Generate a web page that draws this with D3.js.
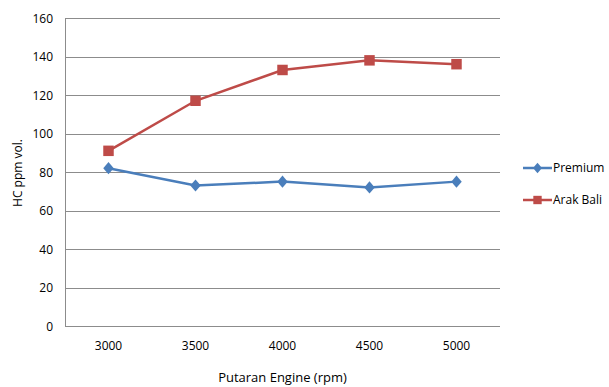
<!DOCTYPE html>
<html>
<head>
<meta charset="utf-8">
<script src="https://cdn.jsdelivr.net/npm/d3@7"></script>
<style>
  body { margin: 0; background: #fff; }
  text { font-family: "Open Sans", "Noto Sans", sans-serif; fill: #000; }
</style>
</head>
<body>
<svg id="drawing_region"></svg>
<script>
const rpm = ["3000", "3500", "4000", "4500", "5000"];
const premium = [82, 73, 75, 72, 75];
const arakBali = [91, 117, 133, 138, 136];
const yTicks = [0, 20, 40, 60, 80, 100, 120, 140, 160];

// wide diamond like the spreadsheet marker
const wideDiamond = {
    draw(context, size) {
        const w = Math.sqrt(size) / 2, h = w * 1.15;
        context.moveTo(0, -h);
        context.lineTo(w, 0);
        context.lineTo(0, h);
        context.lineTo(-w, 0);
        context.closePath();
    }
};

const series = [
    { name: "Premium", values: premium, color: "#4a7ebb", shape: wideDiamond, size: 110, lsize: 80 },
    { name: "Arak Bali", values: arakBali, color: "#be4b48", shape: d3.symbolSquare, size: 110, lsize: 70 }
];

const config = {
    width: 609,
    height: 387,
    margin: { top: 18, right: 109, bottom: 61, left: 65 }
};

const svg = d3.select('#drawing_region')
    .attr('width', config.width)
    .attr('height', config.height);

const inner_width = config.width - config.margin.left - config.margin.right;
const inner_height = config.height - config.margin.top - config.margin.bottom;

const chart = svg.append('g')
    .attr('transform', `translate(${config.margin.left}, ${config.margin.top})`);

const xscale = d3.scaleBand()
    .domain(rpm)
    .range([0, inner_width]);

const yscale = d3.scaleLinear()
    .domain([0, 160])
    .range([inner_height, 0]);

// gridlines
chart.append('g')
    .selectAll('line')
    .data(yTicks)
    .join('line')
    .attr('x1', 0)
    .attr('x2', inner_width)
    .attr('y1', d => Math.round(yscale(d)) + 0.5)
    .attr('y2', d => Math.round(yscale(d)) + 0.5)
    .attr('stroke', '#8c8c8c')
    .attr('stroke-width', 1);

// y axis
const yaxis = d3.axisLeft(yscale).tickValues(yTicks).tickSize(0).tickPadding(12);
const yaxis_group = chart.append('g').call(yaxis);
yaxis_group.select('.domain').attr('stroke', '#8c8c8c').attr('d', `M0.5,0V${inner_height}`);
yaxis_group.selectAll('text').attr('font-size', 12).attr('dy', '0.35em');

// x axis
const xaxis = d3.axisBottom(xscale).tickSize(0).tickPadding(15);
const xaxis_group = chart.append('g')
    .attr('transform', `translate(0, ${inner_height})`)
    .call(xaxis);
xaxis_group.select('.domain').remove();
xaxis_group.selectAll('text').attr('font-size', 12);

// axis titles
svg.append('text')
    .attr('transform', `translate(18, ${config.margin.top + inner_height / 2 + 1}) rotate(-90)`)
    .attr('text-anchor', 'middle')
    .attr('font-size', 12)
    .attr('dy', '0.35em')
    .text('HC ppm vol.');

svg.append('text')
    .attr('x', config.margin.left + inner_width / 2)
    .attr('y', 382)
    .attr('text-anchor', 'middle')
    .attr('font-size', 13)
    .text('Putaran Engine (rpm)');

// lines and markers
const xc = d => xscale(d) + xscale.bandwidth() / 2;
const line = d3.line()
    .x((d, i) => xc(rpm[i]))
    .y(d => yscale(d));

series.forEach(s => {
    chart.append('path')
        .datum(s.values)
        .attr('d', line)
        .attr('fill', 'none')
        .attr('stroke', s.color)
        .attr('stroke-width', 2.5);

    chart.append('g')
        .selectAll('path')
        .data(s.values)
        .join('path')
        .attr('transform', (d, i) => `translate(${xc(rpm[i])}, ${yscale(d)})`)
        .attr('d', d3.symbol().type(s.shape).size(s.size))
        .attr('fill', s.color);
});

// legend
const legend = svg.append('g')
    .selectAll('g')
    .data(series)
    .join('g')
    .attr('transform', (d, i) => `translate(523, ${168 + i * 32})`);

legend.append('line')
    .attr('x1', 0).attr('x2', 29)
    .attr('stroke', d => d.color)
    .attr('stroke-width', 2.5);

legend.append('path')
    .attr('transform', 'translate(14.5, 0)')
    .attr('d', d => d3.symbol().type(d.shape).size(d.lsize)())
    .attr('fill', d => d.color);

legend.append('text')
    .attr('x', 30)
    .attr('dy', '0.35em')
    .attr('font-size', 12)
    .text(d => d.name);
</script>
</body>
</html>
